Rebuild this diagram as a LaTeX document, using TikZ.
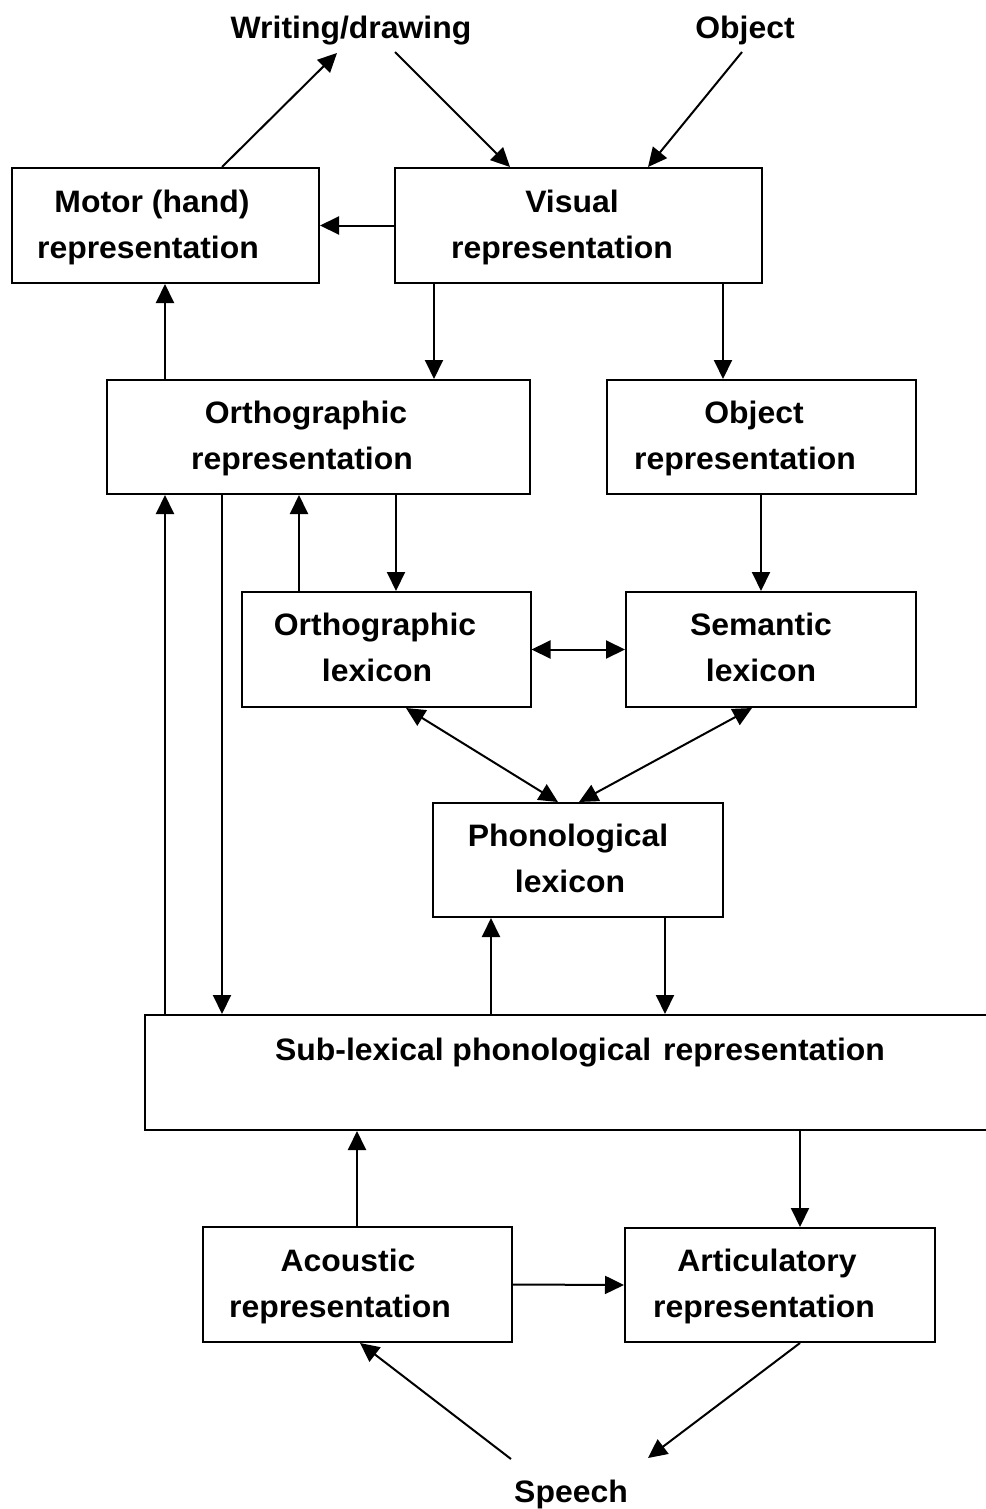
\documentclass[tikz,border=0pt]{standalone}
\usepackage{fontspec}
\setmainfont{Liberation Sans}[FakeStretch=1.03]
\usetikzlibrary{arrows.meta}
\begin{document}
\begin{tikzpicture}[x=1pt,y=-1pt,
  box/.style={draw, line width=2pt, minimum width=#1, minimum height=115pt, inner sep=0pt},
  lbl/.style={font=\fontsize{31}{46}\selectfont\bfseries, align=center, inner sep=0pt},
  arr/.style={line width=2pt, -{Triangle[length=19pt,width=18pt]}},
  darr/.style={line width=2pt, {Triangle[length=19pt,width=18pt]}-{Triangle[length=19pt,width=18pt]}}]
\useasboundingbox (0,0) rectangle (985,1509);
\fill[white] (0,0) rectangle (985,1509);

% boxes
\node[box=307pt] (motor) at (165.5,225.5) {};
\node[box=367pt] (visual) at (578.5,225.5) {};
\node[box=423pt, minimum height=114pt] (orthorep) at (318.5,437) {};
\node[box=309pt, minimum height=114pt] (objrep) at (761.5,437) {};
\node[box=289pt] (ortholex) at (386,649.5) {};
\node[box=290pt] (semlex) at (771,649.5) {};
\node[box=290pt, minimum height=114pt] (phonlex) at (578,860) {};
\node[box=860pt] (sublex) at (575,1072.5) {};
\node[box=309pt] (acoustic) at (357.5,1284.5) {};
\node[box=310pt, minimum height=114pt] (artic) at (780,1285) {};

% box texts
\node[lbl] (motortxt) at (148,227) {\hspace*{8pt}Motor (hand)\\representation};
\node[lbl] (visualtxt) at (562,227) {\hspace*{20pt}Visual\\representation};
\node[lbl] (orthoreptxt) at (302,438.5) {\hspace*{8pt}Orthographic\\representation};
\node[lbl] (objreptxt) at (745,438.5) {\hspace*{18pt}Object\\representation};
\node[lbl] (ortholextxt) at (375,647.5) {Orthographic\\\hspace*{4pt}lexicon};
\node[lbl] (semlextxt) at (761,647.5) {Semantic\\lexicon};
\node[lbl] (phonlextxt) at (568,858) {Phonological\\\hspace*{4pt}lexicon};
\node[lbl, anchor=base] (sublextxt) at (580,1060) {Sub-lexical phonological\hspace{0.1em} representation};
\node[lbl] (acoustictxt) at (340,1286) {\hspace*{16pt}Acoustic\\representation};
\node[lbl] (artictxt) at (764,1286.5) {\hspace*{6pt}Articulatory\\representation};

% free texts
\node[lbl, anchor=base] (writing) at (351,39) {Writing/drawing};
\node[lbl, anchor=base] (object) at (745,39) {Object};
\node[lbl, anchor=base] (speech) at (571,1502) {Speech};

% free ends
\coordinate (wIn) at (337,53);
\coordinate (wOut) at (395,52);
\coordinate (oOut) at (742,52);
\coordinate (sOut) at (511,1459);
\coordinate (sIn) at (648,1458);

% connectors
\draw[arr] ([xshift=56.5pt]motor.north) -- (wIn);
\draw[arr] (wOut) -- ([xshift=-68.5pt]visual.north);
\draw[arr] (oOut) -- ([xshift=69.5pt]visual.north);
\draw[arr] (visual.west) -- (motor.east);
\draw[arr] ([xshift=-144.5pt]visual.south) -- ([xshift=115.5pt]orthorep.north);
\draw[arr] ([xshift=144.5pt]visual.south) -- ([xshift=-38.5pt]objrep.north);
\draw[arr] ([xshift=-153.5pt]orthorep.north) -- ([xshift=-0.5pt]motor.south);
\draw[arr] ([xshift=-410pt]sublex.north) -- ([xshift=-153.5pt]orthorep.south);
\draw[arr] ([xshift=-96.5pt]orthorep.south) -- ([xshift=-353pt]sublex.north);
\draw[arr] ([xshift=-87pt]ortholex.north) -- ([xshift=-19.5pt]orthorep.south);
\draw[arr] ([xshift=77.5pt]orthorep.south) -- ([xshift=10pt]ortholex.north);
\draw[arr] ([xshift=-0.5pt]objrep.south) -- ([xshift=-10pt]semlex.north);
\draw[darr] (ortholex.east) -- (semlex.west);
\draw[darr] ([xshift=20pt]ortholex.south) -- ([xshift=-20pt]phonlex.north);
\draw[darr] ([xshift=-19pt]semlex.south) -- ([xshift=1pt]phonlex.north);
\draw[arr] ([xshift=-84pt]sublex.north) -- ([xshift=-87pt]phonlex.south);
\draw[arr] ([xshift=87pt]phonlex.south) -- ([xshift=90pt]sublex.north);
\draw[arr] ([xshift=-0.5pt]acoustic.north) -- ([xshift=-218pt]sublex.south);
\draw[arr] ([xshift=225pt]sublex.south) -- ([xshift=20pt]artic.north);
\draw[arr] (acoustic.east) -- (artic.west);
\draw[arr] (sOut) -- ([xshift=2.5pt]acoustic.south);
\draw[arr] ([xshift=20pt]artic.south) -- (sIn);
\end{tikzpicture}
\end{document}
